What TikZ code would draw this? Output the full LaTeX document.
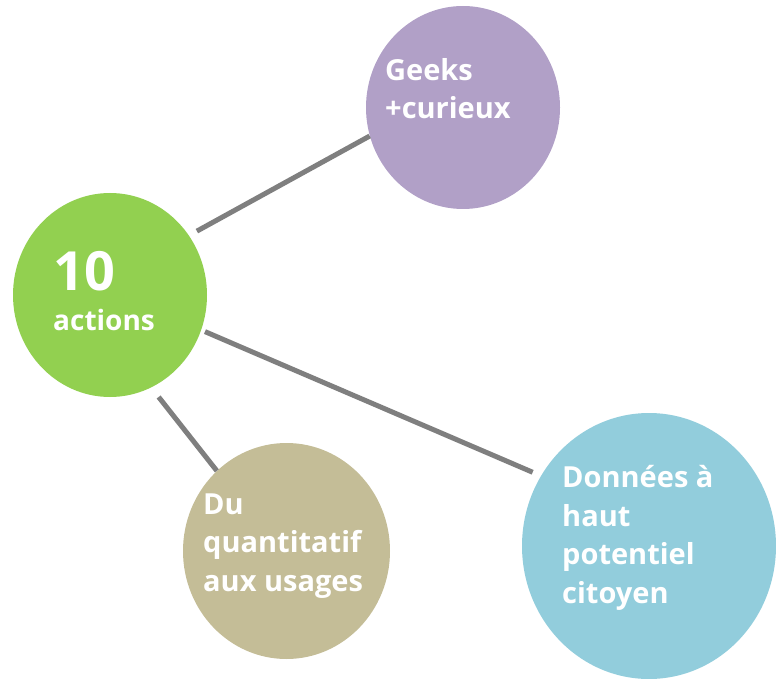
\documentclass[tikz,border=0pt]{standalone}
\usepackage{fontspec}
\setmainfont{Open Sans}
\usetikzlibrary{shapes.geometric}
\definecolor{leaf}{HTML}{92D050}
\definecolor{lilac}{HTML}{B1A0C7}
\definecolor{sand}{HTML}{C4BD97}
\definecolor{sky}{HTML}{92CDDC}
\definecolor{wire}{HTML}{7F7F7F}

\begin{document}
\begin{tikzpicture}[x=1pt, y=-1pt,
  bubble/.style={ellipse, inner sep=0pt},
  label/.style={anchor=base west, inner sep=0pt, align=left, text=white,
    font=\bfseries\fontsize{29}{38.5}\selectfont},
  link/.style={wire, line width=5pt}
]
\useasboundingbox (0,0) rectangle (776,679);

% quatro bulles
\node[bubble, fill=leaf, minimum width=194pt, minimum height=204pt] (actions) at (110,295) {};
\node[bubble, fill=lilac, minimum width=194pt, minimum height=203pt] (geeks) at (463,107.5) {};
\node[bubble, fill=sand, minimum width=207pt, minimum height=216pt] (usages) at (286.5,551) {};
\node[bubble, fill=sky, minimum width=254pt, minimum height=266pt] (donnees) at (649,546) {};

% textes (ancre sur la derniere ligne)
\node[label, font=\bfseries\fontsize{54}{60}\selectfont] (dix) at (53,290) {10};
\node[label, font=\bfseries\fontsize{28}{38.5}\selectfont] (actionstxt) at (53,330) {actions};
\node[label] (geekstxt) at (385,119) {Geeks\\+curieux};
\node[label] (usagestxt) at (203,591) {Du\\quantitatif\\aux usages};
\node[label] (donneestxt) at (562,603) {Données à\\haut\\potentiel\\citoyen};

% trois liens
\draw[link, shorten <=9pt] (actions.37) -- (geeks.197);
\draw[link, shorten <=4pt, shorten >=9pt] (actions.-21) -- (donnees.147);
\draw[link, shorten <=12pt] (actions.-66) -- (usages.131);

\end{tikzpicture}
\end{document}
